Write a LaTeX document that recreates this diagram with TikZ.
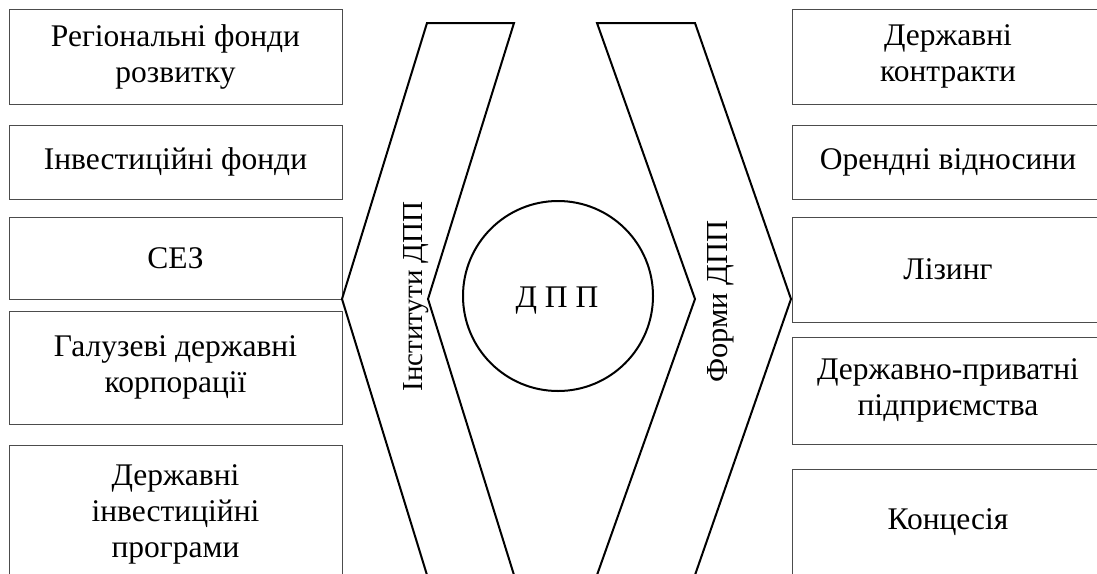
\documentclass[tikz,border=0pt]{standalone}
\usepackage{fontspec}
\setmainfont{Liberation Serif}
\usetikzlibrary{positioning}
\begin{document}
\begin{tikzpicture}[x=1pt,y=-1pt,font=\fontsize{31.5}{36}\selectfont,
  box/.style={draw=black!70, line width=1pt, minimum width=333pt, align=center, inner sep=0pt},
  rbox/.style={box, minimum width=312pt},
  chevron/.style={draw, line width=2pt, line join=miter},
  vlabel/.style={rotate=90, anchor=base, font=\fontsize{29}{33}\selectfont}]
  \clip (0,0) rectangle (1097,573);

  \node[box, minimum height=95pt] (regfond) at (175.5,56.5) {Регіональні фонди\\розвитку};
  \node[box, minimum height=74pt] (invfond) at (175.5,162) {Інвестиційні фонди};
  \node[box, minimum height=82pt] (sez) at (175.5,258) {СЕЗ};
  \node[box, minimum height=113pt] (galcorp) at (175.5,367.5) {Галузеві державні\\корпорації};
  \node[box, minimum height=138pt] (invprog) at (175.5,514) {Державні\\інвестиційні\\програми};

  \node[rbox, minimum height=95pt] (kontrakt) at (948,56.5) {Державні\\контракти};
  \node[rbox, minimum height=74pt] (orenda) at (948,162) {Орендні відносини};
  \node[rbox, minimum height=105pt] (lizing) at (948,269.5) {Лізинг};
  \node[rbox, minimum height=107pt] (dppidpr) at (948,390.5) {Державно-приватні\\підприємства};
  \node[rbox, minimum height=106pt] (koncesia) at (948,522) {Концесія};

  \draw[chevron] (427,23) -- (514,23) -- (428,299) -- (514,575) -- (427,575) -- (342,299) -- cycle;
  \draw[chevron] (597,23) -- (695,23) -- (791,299) -- (695,575) -- (597,575) -- (695,299) -- cycle;

  \node[draw, circle, line width=2pt, minimum size=190pt, inner sep=0pt] (core) at (558,296) {};
  \node[anchor=base] (dpp) at (557,307) {Д П П};
  \node[vlabel] (instytuty) at (422,296.5) {Інститути ДПП};
  \node[vlabel, font=\fontsize{30.5}{33}\selectfont] (formy) at (727,301.5) {Форми ДПП};
\end{tikzpicture}
\end{document}
